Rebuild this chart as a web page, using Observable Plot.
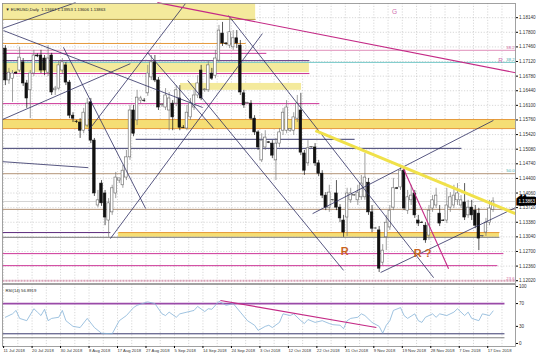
<!DOCTYPE html>
<html><head><meta charset="utf-8">
<script src="https://cdn.jsdelivr.net/npm/d3@7"></script>
<script src="https://cdn.jsdelivr.net/npm/@observablehq/plot@0.6"></script>
<style>
html,body{margin:0;padding:0;background:#fff;}
#wrap{position:relative;width:536px;height:358px;overflow:hidden;background:#fff;}
#main{position:absolute;left:0;top:0;}
#rsi{position:absolute;left:0;top:284px;}
</style></head>
<body><div id="wrap"><div id="main"></div><div id="rsi"></div></div>
<script>
// ---- candle values (EURUSD daily), bar index 0 = 11 Jul 2018 ----
const openP  = [1.1742,1.1668,1.1672,1.1686,1.1691,1.1710,1.1661,1.1645,1.1684,1.1726,1.1726,1.1719,1.1686,1.1726,1.1645,1.1649,1.1691,1.1703,1.1663,1.1586,1.1572,1.1570,1.1551,1.1563,1.1617,1.1528,1.1377,1.1428,1.1405,1.1342,1.1361,1.1405,1.1435,1.1424,1.1442,1.1489,1.1598,1.1575,1.1621,1.1621,1.1638,1.1675,1.1710,1.1668,1.1610,1.1605,1.1598,1.1614,1.1614,1.1626,1.1558,1.1556,1.1582,1.1605,1.1633,1.1691,1.1645,1.1645,1.1684,1.1679,1.1714,1.1777,1.1754,1.1749,1.1745,1.1766,1.1749,1.1638,1.1614,1.1614,1.1579,1.1547,1.1482,1.1512,1.1524,1.1521,1.1482,1.1521,1.1551,1.1551,1.1551,1.1551,1.1579,1.1598,1.1498,1.1475,1.1512,1.1512,1.1475,1.1451,1.1400,1.1372,1.1389,1.1405,1.1372,1.1342,1.1349,1.1389,1.1400,1.1389,1.1396,1.1396,1.1430,1.1361,1.1323,1.1319,1.1244,1.1303,1.1326,1.1372,1.1417,1.1419,1.1458,1.1365,1.1389,1.1405,1.1342,1.1337,1.1330,1.1307,1.1370,1.1377,1.1358,1.1342,1.1342,1.1372,1.1377,1.1389,1.1377,1.1384,1.1354,1.1372,1.1365,1.1358,1.1305,1.1314,1.1337,1.1367];
const highP  = [1.1749,1.1696,1.1691,1.1689,1.1745,1.1719,1.1668,1.1691,1.1738,1.1730,1.1738,1.1726,1.1749,1.1731,1.1654,1.1714,1.1719,1.1710,1.1668,1.1593,1.1575,1.1579,1.1603,1.1626,1.1626,1.1533,1.1412,1.1435,1.1412,1.1393,1.1424,1.1454,1.1440,1.1470,1.1505,1.1610,1.1610,1.1645,1.1631,1.1626,1.1703,1.1726,1.1726,1.1675,1.1614,1.1649,1.1640,1.1621,1.1656,1.1656,1.1563,1.1610,1.1626,1.1645,1.1679,1.1703,1.1649,1.1714,1.1696,1.1738,1.1796,1.1803,1.1756,1.1814,1.1784,1.1784,1.1761,1.1645,1.1617,1.1621,1.1586,1.1551,1.1544,1.1551,1.1526,1.1528,1.1533,1.1556,1.1603,1.1621,1.1556,1.1593,1.1633,1.1638,1.1505,1.1528,1.1514,1.1521,1.1482,1.1458,1.1407,1.1424,1.1391,1.1435,1.1379,1.1354,1.1417,1.1417,1.1403,1.1424,1.1447,1.1498,1.1440,1.1377,1.1326,1.1328,1.1286,1.1354,1.1377,1.1440,1.1419,1.1465,1.1465,1.1412,1.1424,1.1412,1.1354,1.1340,1.1337,1.1377,1.1400,1.1417,1.1377,1.1344,1.1417,1.1407,1.1424,1.1428,1.1400,1.1428,1.1389,1.1389,1.1377,1.1370,1.1307,1.1347,1.1389,1.1395];
const lowP   = [1.1656,1.1659,1.1617,1.1682,1.1686,1.1654,1.1603,1.1579,1.1677,1.1721,1.1684,1.1679,1.1677,1.1633,1.1633,1.1645,1.1682,1.1656,1.1579,1.1570,1.1568,1.1533,1.1544,1.1558,1.1521,1.1398,1.1372,1.1375,1.1330,1.1303,1.1354,1.1393,1.1428,1.1417,1.1435,1.1482,1.1537,1.1563,1.1614,1.1617,1.1631,1.1668,1.1663,1.1598,1.1605,1.1598,1.1551,1.1551,1.1607,1.1551,1.1556,1.1551,1.1575,1.1598,1.1626,1.1621,1.1640,1.1640,1.1668,1.1672,1.1710,1.1747,1.1749,1.1742,1.1738,1.1742,1.1633,1.1603,1.1612,1.1575,1.1540,1.1505,1.1477,1.1505,1.1521,1.1486,1.1435,1.1512,1.1540,1.1544,1.1547,1.1540,1.1570,1.1493,1.1447,1.1468,1.1510,1.1468,1.1444,1.1393,1.1365,1.1361,1.1386,1.1365,1.1337,1.1303,1.1305,1.1382,1.1398,1.1377,1.1389,1.1389,1.1354,1.1314,1.1321,1.1221,1.1237,1.1272,1.1319,1.1365,1.1414,1.1412,1.1365,1.1356,1.1377,1.1347,1.1328,1.1335,1.1289,1.1296,1.1361,1.1370,1.1328,1.1340,1.1335,1.1361,1.1370,1.1377,1.1370,1.1342,1.1347,1.1342,1.1323,1.1272,1.1303,1.1305,1.1330,1.1361];
const closeP = [1.1668,1.1686,1.1684,1.1684,1.1721,1.1661,1.1626,1.1684,1.1726,1.1724,1.1691,1.1691,1.1719,1.1640,1.1649,1.1703,1.1710,1.1663,1.1586,1.1579,1.1571,1.1551,1.1593,1.1614,1.1528,1.1405,1.1389,1.1382,1.1349,1.1382,1.1417,1.1442,1.1440,1.1458,1.1489,1.1598,1.1544,1.1628,1.1626,1.1620,1.1684,1.1710,1.1668,1.1605,1.1612,1.1633,1.1626,1.1582,1.1645,1.1558,1.1557,1.1593,1.1614,1.1633,1.1661,1.1626,1.1647,1.1703,1.1672,1.1719,1.1784,1.1754,1.1753,1.1780,1.1766,1.1754,1.1640,1.1610,1.1616,1.1579,1.1547,1.1512,1.1528,1.1535,1.1523,1.1493,1.1521,1.1547,1.1593,1.1605,1.1555,1.1582,1.1614,1.1500,1.1458,1.1510,1.1513,1.1475,1.1451,1.1400,1.1372,1.1407,1.1390,1.1372,1.1347,1.1314,1.1405,1.1405,1.1401,1.1407,1.1428,1.1442,1.1361,1.1323,1.1324,1.1230,1.1272,1.1337,1.1365,1.1417,1.1416,1.1458,1.1370,1.1396,1.1400,1.1354,1.1335,1.1336,1.1296,1.1365,1.1389,1.1400,1.1335,1.1341,1.1377,1.1396,1.1400,1.1405,1.1389,1.1349,1.1372,1.1354,1.1330,1.1300,1.1306,1.1337,1.1370,1.13863];

// ---- RSI(14) readings ----
const rsiBar = [0,2,3,4,6,8,9,10,11,12,13,15,16,17,19,21,23,25,27,30,32,34,36,37,40,42,44,45,46,48,49,51,53,54,56,57,58,60,62,64,66,68,70,71,73,74,75,77,78,80,81,83,84,85,87,89,91,92,94,95,96,97,99,100,101,103,105,106,107,108,109,111,112,113,115,116,117,118,120,121,122,124,126,127,129,130,131,133,134,136,137];
const rsiVal = [46,52,58,44,40,61,55,49,60,40,44,46,58,40,30,28,44,28,18,17,40,49,63,67,73,70,52,49,55,46,52,55,58,65,56,61,60,74,67,70,55,40,32,23,30,32,28,37,52,49,52,40,35,42,37,40,35,33,32,26,40,44,46,52,49,37,30,18,32,40,58,63,49,44,52,40,37,46,52,46,52,49,55,61,49,55,44,40,52,49,57];

// ---- axes ----
const priceTicks = [1.18140,1.17800,1.17460,1.17120,1.16780,1.16440,1.16100,1.15760,1.15420,1.15080,1.14740,1.14400,1.14060,1.13720,1.13380,1.13040,1.12700,1.12360,1.12020];
const dateLabels = ["11 Jul 2018","20 Jul 2018","30 Jul 2018","8 Aug 2018","17 Aug 2018","27 Aug 2018","5 Sep 2018","14 Sep 2018","24 Sep 2018","3 Oct 2018","12 Oct 2018","22 Oct 2018","31 Oct 2018","9 Nov 2018","19 Nov 2018","28 Nov 2018","7 Dec 2018","17 Dec 2018"];
const dateTickBar = [-0.5,7.5,15.5,23.5,31.5,39.5,47.5,55.5,63.5,71.5,79.5,87.5,95.5,103.5,111.5,119.5,127.5,135.5];
const gridBar = [-0.5,3.5,7.5,11.5,15.5,19.5,23.5,27.5,31.5,35.5,39.5,43.5,47.5,51.5,55.5,59.5,63.5,67.5,71.5,75.5,79.5,83.5,87.5,91.5,95.5,99.5,103.5,107.5,111.5,115.5,119.5,123.5,127.5,131.5,135.5,139.5];
const rsiTicks = [0,30,70,100];

// ---- zones [fromBar, toBar, top, bottom] ----
const paleZones = [[-0.81,70.3,1.1847,1.1810],[-0.81,85.4,1.1710,1.1686],[49.2,83.2,1.1661,1.1645]];
const strongZones = [[-0.81,143.3,1.1577,1.1556],[31.8,138.8,1.1314,1.1303]];

// ---- horizontal levels [fromBar, toBar, price] ----
const lvBrown   = [[-0.81,70.3,1.1810]];
const lvOrange  = [[-0.81,67.5,1.1754],[-0.81,143.3,1.1577],[-0.81,143.3,1.1556],[31.8,138.8,1.1314]];
const lvPink    = [[-0.81,143.3,1.1738]];
const lvMagenta = [[-0.81,73.3,1.1731],[-0.81,85.4,1.1684],[-0.81,88.2,1.1614],[-0.81,139.9,1.1265],[-0.81,138.2,1.1237]];
const lvPurple  = [[-0.81,85.4,1.1714],[-0.81,29.5,1.1314]];
const lvTeal    = [[-0.81,143.3,1.1710]];
const lvNavy    = [[36.6,98.1,1.1531],[-0.81,128.1,1.1510]];
const lvTan     = [[-0.81,143.3,1.1451],[-0.81,143.3,1.1368]];
const lvGray    = [[-0.81,138.8,1.1303]];
const lvFib     = [[-0.81,143.3,1.1202]];

// ---- trend lines [bar1, price1, bar2, price2] ----
const navyLines = [
  [-0.53,1.1784,55.4,1.1605],[-0.81,1.1577,35.1,1.1707],[16.3,1.1745,39.4,1.1370],
  [29.5,1.1300,72.2,1.1777],[23.3,1.1551,50.6,1.1847],[39.9,1.1733,58.5,1.1556],
  [51.2,1.1668,95.0,1.1226],[62.7,1.1819,120.3,1.1209],[-0.81,1.1789,19.7,1.1849],
  [86.3,1.1358,137.1,1.1575],[105.4,1.1221,143.3,1.1372],[-0.81,1.1479,23.3,1.1465]];
const magentaLines = [[42.7,1.1849,143.3,1.1686],[111.8,1.1463,124.5,1.1230]];
const yellowLines = [[87.1,1.1551,143.3,1.1358]];

// ---- RSI panel levels / trend ----
const rsiLvPurple = [[-0.81,140.2,70]];
const rsiLvNavy = [[-0.81,140.2,17]];
const rsiLvGray = [[-0.81,140.2,10]];
const rsiTrend = [[60.4,75.4,104.2,28]];

// ---- annotations ----
const header = "▼ EURUSD,Daily  1.13667 1.13953 1.13606 1.13863";
const rsiHeader = "RSI(14) 56.8919";
const fibLabels = [["38.2",1.1740],["38.2",1.1712],["50.0",1.1454],["23.6",1.1204]];
const orangeNotes = [["R",95.3,1.1270],["R ?",117.2,1.1265]];
const pinkNotes = [["G",109.3,1.1828],["R",139.1,1.1714]];

const xDomain = [-0.81, 143.3];
const FONT = "Liberation Sans, Arial, sans-serif";

const candles = openP.map((o,i)=>({i,o,h:highP[i],l:lowP[i],c:closeP[i]}));
const up = candles.filter(d=>d.c>=d.o), down = candles.filter(d=>d.c<d.o);
const lv = a => a.map(([x1,x2,p])=>({x1,x2,p}));
const tl = a => a.map(([x1,y1,x2,y2])=>({x1,y1,x2,y2}));
const hl = (arr, opts) => Plot.link(lv(arr), {x1:"x1",x2:"x2",y1:"p",y2:"p",...opts});
const grid = {stroke:"#bdbdbd",strokeWidth:0.6,strokeDasharray:"1.2,1.6"};

const main = Plot.plot({
  width:536, height:284, marginLeft:2, marginRight:21, marginTop:3, marginBottom:1,
  style:{fontFamily:FONT, background:"transparent", overflow:"visible"},
  x:{domain:xDomain, axis:null},
  y:{domain:[1.11955,1.18470], axis:null},
  marks:[
    Plot.ruleX(gridBar, grid),
    Plot.ruleY(priceTicks, grid),
    Plot.rect(paleZones.map(([x1,x2,a,b])=>({x1,x2,a,b})), {x1:"x1",x2:"x2",y1:"a",y2:"b",fill:"#f4ea9c"}),
    Plot.rect(strongZones.map(([x1,x2,a,b])=>({x1,x2,a,b})), {x1:"x1",x2:"x2",y1:"a",y2:"b",fill:"#f5de74"}),
    hl(lvBrown,{stroke:"#b59a3c",strokeWidth:1}),
    hl(lvOrange,{stroke:"#e69a3c",strokeWidth:1}),
    hl(lvPink,{stroke:"#e6a6c8",strokeWidth:1.4}),
    hl(lvMagenta,{stroke:"#cc3396",strokeWidth:1}),
    hl(lvPurple,{stroke:"#5b2a7c",strokeWidth:1}),
    hl(lvTeal,{stroke:"#74c8c8",strokeWidth:1}),
    hl(lvNavy,{stroke:"#3a3a6e",strokeWidth:1}),
    hl(lvTan,{stroke:"#b39478",strokeWidth:1}),
    hl(lvGray,{stroke:"#7a7a7a",strokeWidth:1}),
    hl(lvFib,{stroke:"#d9a2b8",strokeWidth:2,strokeDasharray:"2,1"}),
    Plot.ruleY([closeP[closeP.length-1]], {stroke:"#c8c8c8",strokeWidth:0.8}),
    Plot.ruleX(up, {x:"i",y1:"l",y2:"h",stroke:"#777",strokeWidth:0.7}),
    Plot.ruleX(down, {x:"i",y1:"l",y2:"h",stroke:"#111",strokeWidth:0.7}),
    Plot.rect(up, {x1:d=>d.i-0.36,x2:d=>d.i+0.36,y1:"o",y2:"c",fill:"#fff",stroke:"#666",strokeWidth:0.6}),
    Plot.rect(down, {x1:d=>d.i-0.36,x2:d=>d.i+0.36,y1:"o",y2:"c",fill:"#111",stroke:"#111",strokeWidth:0.6}),
    Plot.link(tl(navyLines), {x1:"x1",y1:"y1",x2:"x2",y2:"y2",stroke:"#2d2d62",strokeWidth:0.8}),
    Plot.link(tl(magentaLines), {x1:"x1",y1:"y1",x2:"x2",y2:"y2",stroke:"#c42a86",strokeWidth:1.1}),
    Plot.link(tl(yellowLines), {x1:"x1",y1:"y1",x2:"x2",y2:"y2",stroke:"#f0e14a",strokeWidth:3}),
    Plot.frame({stroke:"#8a8a8a",strokeWidth:0.8}),
    Plot.axisY(priceTicks, {anchor:"right",tickSize:2,tickPadding:1.5,fontSize:4.6,fill:"#333",tickFormat:d=>d.toFixed(5)}),
    Plot.text([closeP[closeP.length-1]], {y:d=>d,frameAnchor:"right",dx:3,textAnchor:"start",text:d=>d.toFixed(5),fontSize:4.6,fill:"#fff",stroke:"#000",strokeWidth:5,strokeLinejoin:"miter",paintOrder:"stroke"}),
    Plot.text([header], {frameAnchor:"top-left",dx:3,dy:5,fontSize:4.2,fill:"#222",textAnchor:"start"}),
    Plot.text(fibLabels.slice(0,1).concat(fibLabels.slice(3)), {y:d=>d[1],text:d=>d[0],frameAnchor:"right",dx:-1,dy:-1.5,textAnchor:"end",fontSize:4.2,fill:"#d0609a"}),
    Plot.text(fibLabels.slice(1,3), {y:d=>d[1],text:d=>d[0],frameAnchor:"right",dx:-1,dy:-1.5,textAnchor:"end",fontSize:4.2,fill:"#3aa8a8"}),
    Plot.text(orangeNotes, {x:d=>d[1],y:d=>d[2],text:d=>d[0],fontSize:11,fontWeight:"bold",fill:"#c8641e"}),
    Plot.text(pinkNotes, {x:d=>d[1],y:d=>d[2],text:d=>d[0],fontSize:6.5,fill:"#d070b0"})
  ]
});
document.getElementById("main").appendChild(main);

const rsiData = rsiBar.map((b,k)=>({b,v:rsiVal[k]}));
const rsi = Plot.plot({
  width:536, height:74, marginLeft:2, marginRight:21, marginTop:0, marginBottom:12,
  style:{fontFamily:FONT, background:"transparent", overflow:"visible"},
  x:{domain:xDomain},
  y:{domain:[-5.3,103.5]},
  marks:[
    Plot.ruleX(gridBar, grid),
    hl(rsiLvPurple, {stroke:"#9a4aa8",strokeWidth:1.6}),
    hl(rsiLvNavy, {stroke:"#3a3a6e",strokeWidth:1}),
    hl(rsiLvGray, {stroke:"#808080",strokeWidth:1}),
    Plot.line(rsiData, {x:"b",y:"v",stroke:"#86b4d8",strokeWidth:0.8}),
    Plot.link(tl(rsiTrend), {x1:"x1",y1:"y1",x2:"x2",y2:"y2",stroke:"#c42a86",strokeWidth:1.1}),
    Plot.frame({stroke:"#8a8a8a",strokeWidth:0.8}),
    Plot.axisY(rsiTicks, {anchor:"right",tickSize:2,tickPadding:1.5,fontSize:4.6,fill:"#333"}),
    Plot.axisX(dateTickBar, {anchor:"bottom",tickSize:2,tickPadding:1,fontSize:4.2,fill:"#333",textAnchor:"start",tickFormat:(d,i)=>dateLabels[i]}),
    Plot.text([rsiHeader], {frameAnchor:"top-left",dx:3,dy:5,fontSize:4.2,fill:"#222",textAnchor:"start"})
  ]
});
document.getElementById("rsi").appendChild(rsi);
</script>
</body></html>
